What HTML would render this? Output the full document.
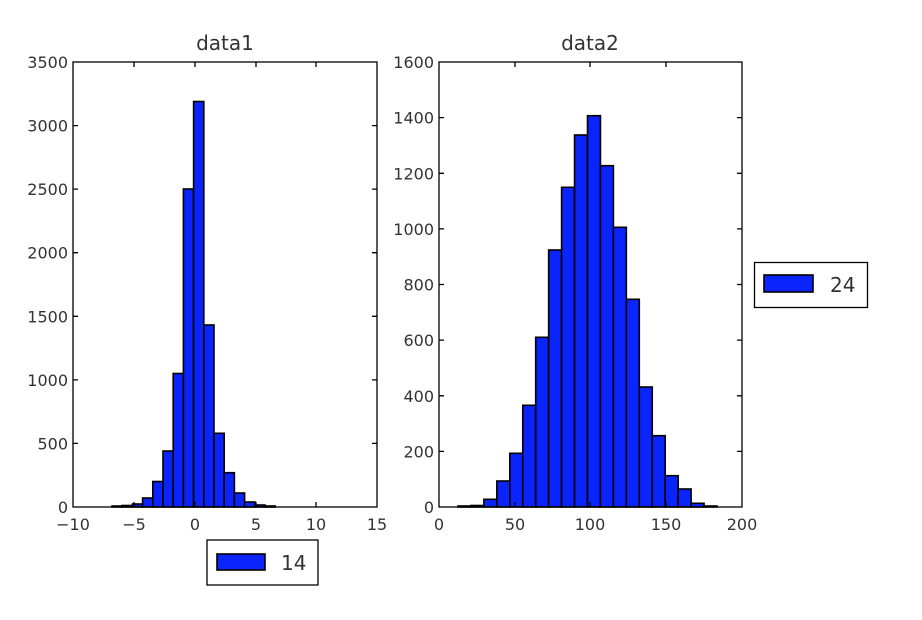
<!DOCTYPE html>
<html><head><meta charset="utf-8"><style>html,body{margin:0;padding:0;background:#fff}svg{display:block}</style></head>
<body>
<svg width="922" height="620" viewBox="0 0 922 620" xmlns="http://www.w3.org/2000/svg" font-family="DejaVu Sans, Liberation Sans, sans-serif" fill="#333">
<rect width="922" height="620" fill="#fff"/>
<g fill="#0b24fb" stroke="#000" stroke-width="1.6">
<rect x="112" y="506" width="10.2" height="1"/>
<rect x="122.2" y="505.5" width="10.2" height="1.5"/>
<rect x="132.4" y="504" width="10.2" height="3"/>
<rect x="142.6" y="498" width="10.2" height="9"/>
<rect x="152.8" y="481.5" width="10.2" height="25.5"/>
<rect x="163" y="451" width="10.2" height="56"/>
<rect x="173.2" y="373.5" width="10.2" height="133.5"/>
<rect x="183.4" y="189" width="10.2" height="318"/>
<rect x="193.6" y="101.5" width="10.2" height="405.5"/>
<rect x="203.8" y="325" width="10.2" height="182"/>
<rect x="214" y="433.3" width="10.2" height="73.7"/>
<rect x="224.2" y="472.7" width="10.2" height="34.3"/>
<rect x="234.4" y="493" width="10.2" height="14"/>
<rect x="244.6" y="502" width="10.2" height="5"/>
<rect x="254.8" y="505" width="10.2" height="2"/>
<rect x="265" y="506" width="10.2" height="1"/>
</g>
<g fill="#0b24fb" stroke="#000" stroke-width="1.6">
<rect x="458" y="506" width="12.95" height="1"/>
<rect x="470.95" y="505.5" width="12.95" height="1.5"/>
<rect x="483.9" y="499.3" width="12.95" height="7.7"/>
<rect x="496.85" y="481" width="12.95" height="26"/>
<rect x="509.8" y="453.3" width="12.95" height="53.7"/>
<rect x="522.75" y="405.3" width="12.95" height="101.7"/>
<rect x="535.7" y="337.3" width="12.95" height="169.7"/>
<rect x="548.65" y="250" width="12.95" height="257"/>
<rect x="561.6" y="187.3" width="12.95" height="319.7"/>
<rect x="574.55" y="135" width="12.95" height="372"/>
<rect x="587.5" y="115.7" width="12.95" height="391.3"/>
<rect x="600.45" y="165.7" width="12.95" height="341.3"/>
<rect x="613.4" y="227.3" width="12.95" height="279.7"/>
<rect x="626.35" y="299.3" width="12.95" height="207.7"/>
<rect x="639.3" y="387" width="12.95" height="120"/>
<rect x="652.25" y="435.7" width="12.95" height="71.3"/>
<rect x="665.2" y="475.7" width="12.95" height="31.3"/>
<rect x="678.15" y="489" width="12.95" height="18"/>
<rect x="691.1" y="503.3" width="12.95" height="3.7"/>
<rect x="704.05" y="506" width="12.95" height="1"/>
</g>
<g fill="none" stroke="#000" stroke-width="1.3">
<rect x="73" y="62" width="304" height="445"/>
<rect x="439" y="62" width="303" height="445"/>
<path d="M134,507v-5M195,507v-5M256,507v-5M316,507v-5M134,62v5M195,62v5M256,62v5M316,62v5"/>
<path d="M73,443.4h5M73,379.9h5M73,316.3h5M73,252.7h5M73,189.1h5M73,125.6h5M377,443.4h-5M377,379.9h-5M377,316.3h-5M377,252.7h-5M377,189.1h-5M377,125.6h-5"/>
<path d="M515,507v-5M590,507v-5M666,507v-5M515,62v5M590,62v5M666,62v5"/>
<path d="M439,451.4h5M439,395.8h5M439,340.1h5M439,284.5h5M439,228.9h5M439,173.3h5M439,117.6h5M742,451.4h-5M742,395.8h-5M742,340.1h-5M742,284.5h-5M742,228.9h-5M742,173.3h-5M742,117.6h-5"/>
</g>
<g font-size="16" text-anchor="end">
<text x="68" y="513">0</text><text x="68" y="449.4">500</text><text x="68" y="385.9">1000</text><text x="68" y="322.3">1500</text><text x="68" y="258.7">2000</text><text x="68" y="195.1">2500</text><text x="68" y="131.6">3000</text><text x="68" y="68">3500</text>
</g>
<g font-size="16" text-anchor="middle">
<text x="73" y="530">−10</text><text x="134" y="530">−5</text><text x="195" y="530">0</text><text x="256" y="530">5</text><text x="316" y="530">10</text><text x="377" y="530">15</text>
</g>
<g font-size="16" text-anchor="end">
<text x="434" y="513">0</text><text x="434" y="457.4">200</text><text x="434" y="401.8">400</text><text x="434" y="346.1">600</text><text x="434" y="290.5">800</text><text x="434" y="234.9">1000</text><text x="434" y="179.3">1200</text><text x="434" y="123.6">1400</text><text x="434" y="68">1600</text>
</g>
<g font-size="16" text-anchor="middle">
<text x="439" y="530">0</text><text x="515" y="530">50</text><text x="590" y="530">100</text><text x="666" y="530">150</text><text x="742" y="530">200</text>
</g>
<text x="225" y="50" font-size="20" text-anchor="middle">data1</text>
<text x="590" y="50" font-size="20" text-anchor="middle">data2</text>
<rect x="207" y="540" width="111" height="45" fill="#fff" stroke="#000" stroke-width="1.3"/>
<rect x="217" y="554" width="48" height="16" fill="#0b24fb" stroke="#000" stroke-width="1.6"/>
<text x="281" y="570" font-size="20">14</text>
<rect x="754.5" y="262.5" width="113" height="45" fill="#fff" stroke="#000" stroke-width="1.3"/>
<rect x="764" y="275" width="49" height="17" fill="#0b24fb" stroke="#000" stroke-width="1.6"/>
<text x="830" y="292" font-size="20">24</text>
</svg>
</body></html>
